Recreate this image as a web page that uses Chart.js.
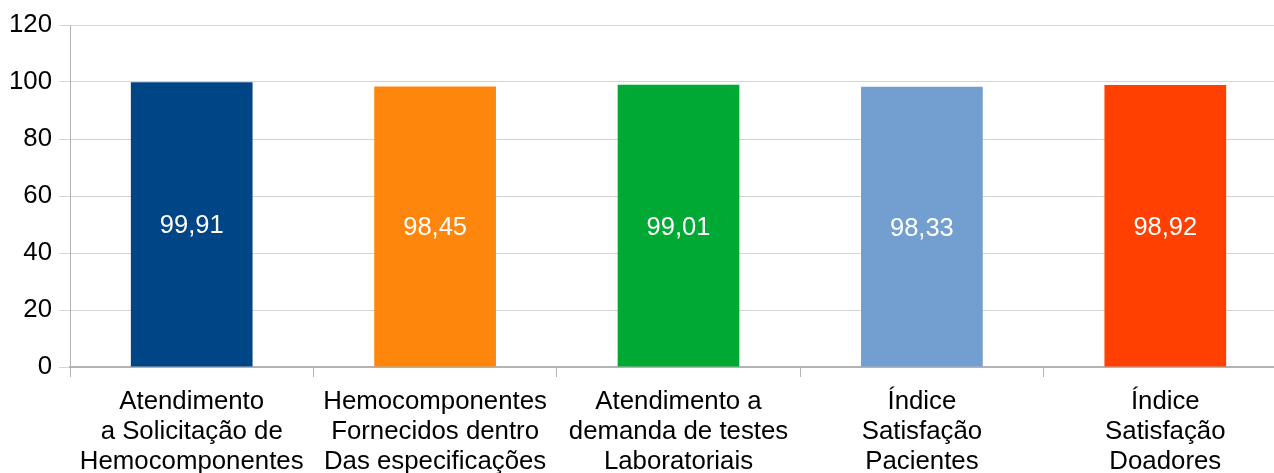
<!DOCTYPE html>
<html lang="pt-BR">
<head>
    <meta charset="UTF-8">
    <title>Indicadores</title>
    <script src="https://cdn.jsdelivr.net/npm/chart.js"></script>
    <style>
        body { margin: 0; overflow: hidden; background: #fff; }
        #wrap { width: 1290px; height: 473px; }
    </style>
</head>
<body>
    <div id="wrap"><canvas id="grafico" width="1290" height="473"></canvas></div>

    <script>
        const categorias = [
            ['Atendimento', 'a Solicitação de', 'Hemocomponentes'],
            ['Hemocomponentes', 'Fornecidos dentro', 'Das especificações'],
            ['Atendimento a', 'demanda de testes', 'Laboratoriais'],
            ['Índice', 'Satisfação', 'Pacientes'],
            ['Índice', 'Satisfação', 'Doadores']
        ];
        const valores = [99.91, 98.45, 99.01, 98.33, 98.92];
        const cores = ['#004586', '#ff860d', '#00a933', '#729fcf', '#ff4000'];

        // rótulos brancos no meio das barras
        const rotulos = {
            id: 'rotulos',
            afterDatasetsDraw(chart) {
                const ctx = chart.ctx;
                const meta = chart.getDatasetMeta(0);
                ctx.save();
                ctx.fillStyle = '#ffffff';
                ctx.font = '25.5px "Liberation Sans", Arial, sans-serif';
                ctx.textAlign = 'center';
                ctx.textBaseline = 'middle';
                meta.data.forEach((bar, i) => {
                    const txt = valores[i].toFixed(2).replace('.', ',');
                    ctx.fillText(txt, bar.x, (bar.y + bar.base) / 2 + 2);
                });
                ctx.restore();
            }
        };

        Chart.defaults.font.family = '"Liberation Sans", Arial, sans-serif';
        Chart.defaults.font.size = 25.8;
        Chart.defaults.color = '#000';

        new Chart(document.getElementById('grafico'), {
            type: 'bar',
            data: {
                labels: categorias,
                datasets: [{
                    data: valores,
                    backgroundColor: cores,
                    barPercentage: 0.5,
                    categoryPercentage: 1
                }]
            },
            options: {
                responsive: false,
                animation: false,
                layout: { padding: { top: 25, right: 3, left: 0, bottom: 0 } },
                plugins: { legend: { display: false }, tooltip: { enabled: false } },
                scales: {
                    x: {
                        grid: { drawOnChartArea: false, color: '#b3b3b3', tickLength: 10 },
                        border: { color: '#b3b3b3', width: 2 },
                        ticks: { padding: 10, maxRotation: 0, autoSkip: false, font: { lineHeight: 1.16 } },
                        afterFit(s) { s.height = 106; }
                    },
                    y: {
                        min: 0,
                        max: 120,
                        ticks: { stepSize: 20, padding: 7 },
                        grid: { color: '#d4d4d4', tickLength: 11 },
                        border: { color: '#b3b3b3' },
                        afterFit(s) { s.width = 70; }
                    }
                }
            },
            plugins: [rotulos]
        });
    </script>
</body>
</html>
